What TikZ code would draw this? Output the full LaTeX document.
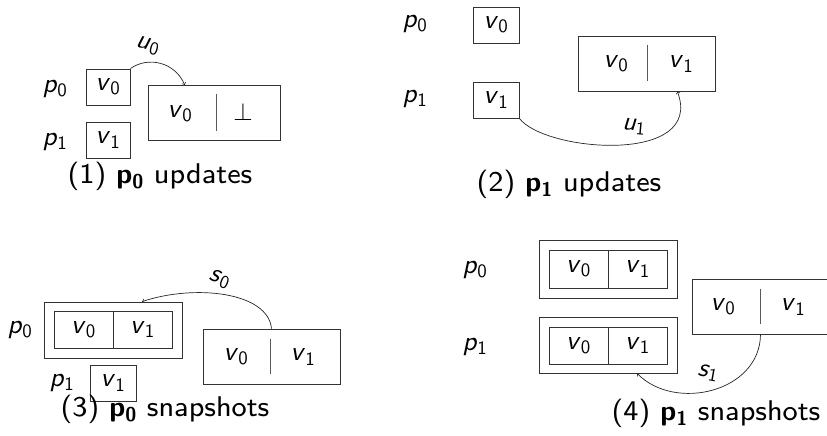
\documentclass[tikz,border=0pt]{standalone}
\usepackage{fontspec}
\setsansfont{lmsans10-regular.otf}[ItalicFont=lmsans10-oblique.otf,BoldFont=lmsans10-bold.otf,BoldItalicFont=lmsans10-boldoblique.otf]
\newfontfamily\capfont{lmsans8-regular.otf}[BoldFont=lmsans10-bold.otf]
\usetikzlibrary{calc}
\newcommand\myv[1]{\textit{v}\textsubscript{\upshape #1}}
\newcommand\myp[1]{\textit{p}\textsubscript{\upshape #1}}
\newcommand\myl[2]{\textit{#1}\textsubscript{\upshape #2}}
\begin{document}
\begin{tikzpicture}[x=1pt,y=-1pt,
  font=\sffamily\fontsize{27}{30}\selectfont,
  box/.style={draw=black!80,line width=0.9pt,inner sep=0pt},
  cell/.style={box,minimum width=46pt,minimum height=36pt},
  half/.style={box,minimum width=59pt,minimum height=37pt},
  mem/.style={box,minimum width=137pt,minimum height=55pt},
  outer/.style={box,minimum width=138pt,minimum height=57pt},
  divider/.style={draw=black!65,line width=1pt},
  lab/.style={inner sep=0pt},
  captext/.style={inner sep=0pt,font=\capfont\fontsize{28.5}{31}\selectfont},
  arr/.style={->,line width=0.7pt,black!85},
  alab/.style={inner sep=0pt,font=\sffamily\fontsize{26}{28}\selectfont}]
\useasboundingbox (0,0) rectangle (827,436);
% ---------- panel 1 ----------
\node[lab] (p0a) at (55,89) {\myp{0}};
\node[cell,minimum width=44pt] (b0a) at (108,87) {\myv{0}};
\node[lab] (p1a) at (55,142) {\myp{1}};
\node[cell,minimum width=44pt] (b1a) at (108,140) {\myv{1}};
\node[mem,minimum width=132pt] (m1) at (214,113) {};
\node[lab] (m1l) at (180,114) {\myv{0}};
\node[lab] (m1r) at (243,112) {$\perp$};
\draw[divider] ($(m1.north)+(2,9)$) coordinate (d1a) -- ($(m1.south)+(2,-10)$) coordinate (d1b);
\coordinate (e1) at ($(m1.north west)!0.28!(m1.north east)$);
\draw[arr] (b0a.north east) .. controls (148,56) and (175,62) .. (e1);
\node[alab,rotate=-15] (u0) at (148,46) {\myl{u}{0}};
\node[captext] (c1) at (160,176) {(1) \textbf{p\textsubscript{0}} updates};
% ---------- panel 2 ----------
\node[lab] (p0b) at (415,24) {\myp{0}};
\node[cell] (b0b) at (496,25) {\myv{0}};
\node[lab] (p1b) at (415,99) {\myp{1}};
\node[cell] (b1b) at (496,100) {\myv{1}};
\node[mem] (m2) at (647,63.5) {};
\node[lab] (m2l) at (616,64) {\myv{0}};
\node[lab] (m2r) at (681,64) {\myv{1}};
\draw[divider] ($(m2.north)+(0,9)$) -- ($(m2.south)+(0,-10)$);
\coordinate (e2) at ($(m2.south west)!0.72!(m2.south east)$);
\draw[arr] (b1b.south east) .. controls (545,152) and (705,165) .. (e2);
\node[alab,rotate=-5] (u1) at (634,127) {\myl{u}{1}};
\node[captext] (c2) at (569,184) {(2) \textbf{p\textsubscript{1}} updates};
% ---------- panel 3 ----------
\node[lab] (p0c) at (20,330) {\myp{0}};
\node[outer,minimum height=56pt] (o3) at (113,330) {};
\node[half] (h3a) at (83.5,329.5) {\myv{0}};
\node[half] (h3b) at (142.5,329.5) {\myv{1}};
\node[lab] (p1c) at (62,383) {\myp{1}};
\node[cell] (b1c) at (113,383) {\myv{1}};
\node[mem] (m3) at (271.5,356.5) {};
\node[lab] (m3l) at (236,357) {\myv{0}};
\node[lab] (m3r) at (303,357) {\myv{1}};
\draw[divider] ($(m3.north)+(-1,10)$) -- ($(m3.south)+(-1,-10)$);
\coordinate (s3) at ($(m3.north west)!0.5!(m3.north east)$);
\coordinate (e3) at ($(o3.north west)!0.71!(o3.north east)$);
\draw[arr] (s3) .. controls (268,292) and (195,284) .. (e3);
\node[alab,rotate=-20] (s0) at (220,279) {\myl{s}{0}};
\node[captext] (c3) at (165,409) {(3) \textbf{p\textsubscript{0}} snapshots};
% ---------- panel 4 ----------
\node[lab] (p0d) at (475,270) {\myp{0}};
\node[outer,minimum height=58pt] (o4a) at (608,269) {};
\node[half,minimum height=38pt] (h4a) at (578.5,269) {\myv{0}};
\node[half,minimum height=38pt] (h4b) at (637.5,269) {\myv{1}};
\node[lab] (p1d) at (475,347) {\myp{1}};
\node[outer,minimum height=56pt] (o4b) at (608,345) {};
\node[half] (h4c) at (578.5,345.5) {\myv{0}};
\node[half] (h4d) at (637.5,345.5) {\myv{1}};
\node[mem] (m4) at (760.5,306.5) {};
\node[lab] (m4l) at (723,307) {\myv{0}};
\node[lab] (m4r) at (793,307) {\myv{1}};
\draw[divider] ($(m4.north)+(0,10)$) -- ($(m4.south)+(0,-10)$);
\coordinate (e4) at ($(o4b.south west)!0.71!(o4b.south east)$);
\draw[arr] (m4.south) .. controls (760,392) and (675,412) .. (e4);
\node[alab,rotate=-10] (s1) at (708,373) {\myl{s}{1}};
\node[captext] (c4) at (716,413) {(4) \textbf{p\textsubscript{1}} snapshots};
\end{tikzpicture}
\end{document}
